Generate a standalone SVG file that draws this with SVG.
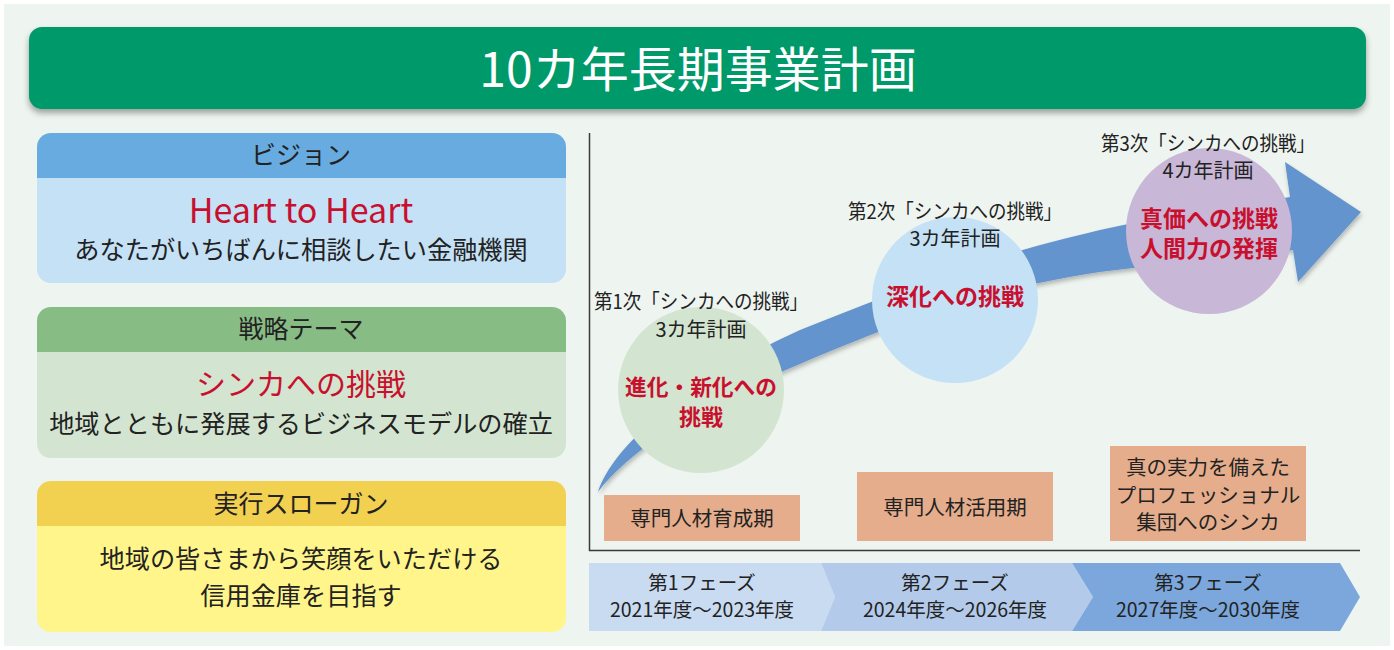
<svg xmlns="http://www.w3.org/2000/svg" width="1394" height="650" viewBox="0 0 1394 650">
<defs>
<filter id="sh" x="-5%" y="-20%" width="110%" height="150%">
<feDropShadow dx="0" dy="4" stdDeviation="3" flood-color="#000" flood-opacity="0.35"/>
</filter>
<filter id="ash" x="-5%" y="-10%" width="110%" height="130%">
<feDropShadow dx="1" dy="3" stdDeviation="2" flood-color="#000" flood-opacity="0.25"/>
</filter>
<style>
text{font-family:"Noto Sans CJK JP","Noto Sans",sans-serif;text-anchor:middle;fill:#222}
.hd{font-size:25px}
.bd{font-size:25.2px}
.red{fill:#C8102E}
.lbl{font-size:20px}
.ct{font-size:23px;font-weight:bold;fill:#C8102E}
.bx{fill:#E5AD8C}
.bt{font-size:20.5px}
.ph{font-size:19.5px}
</style>
</defs>
<rect x="0" y="0" width="1394" height="650" fill="#ffffff"/>
<rect x="4" y="4" width="1386" height="642" fill="#EEF4F0"/>

<g id="title">
<rect x="29" y="27" width="1337" height="82" rx="13" fill="#00996A" filter="url(#sh)"/>
<text x="698" y="87" style="font-size:48px;fill:#ffffff">10カ年長期事業計画</text>
</g>

<g id="vision">
<path d="M37,147 a14,14 0 0 1 14,-14 h501 a14,14 0 0 1 14,14 v31 h-529 z" fill="#67ABE0"/>
<path d="M37,178 h529 v91 a14,14 0 0 1 -14,14 h-501 a14,14 0 0 1 -14,-14 z" fill="#C5E1F6"/>
<text class="hd" x="301" y="164">ビジョン</text>
<text x="301" y="223" style="font-size:34px" class="red">Heart to Heart</text>
<text class="bd" x="301" y="259">あなたがいちばんに相談したい金融機関</text>
</g>

<g id="strategy">
<path d="M37,321 a14,14 0 0 1 14,-14 h501 a14,14 0 0 1 14,14 v31 h-529 z" fill="#88BC85"/>
<path d="M37,352 h529 v92 a14,14 0 0 1 -14,14 h-501 a14,14 0 0 1 -14,-14 z" fill="#D3E5D0"/>
<text class="hd" x="301" y="338">戦略テーマ</text>
<text x="301" y="395" style="font-size:30px" class="red">シンカへの挑戦</text>
<text class="bd" x="301" y="433">地域とともに発展するビジネスモデルの確立</text>
</g>

<g id="slogan">
<path d="M37,495 a14,14 0 0 1 14,-14 h501 a14,14 0 0 1 14,14 v31 h-529 z" fill="#F2D050"/>
<path d="M37,526 h529 v92 a14,14 0 0 1 -14,14 h-501 a14,14 0 0 1 -14,-14 z" fill="#FFF58A"/>
<text class="hd" x="301" y="513">実行スローガン</text>
<text class="bd" x="301" y="568">地域の皆さまから笑顔をいただける</text>
<text class="bd" x="301" y="605">信用金庫を目指す</text>
</g>

<g id="axes" stroke="#3a3a3a" stroke-width="1.5" fill="none">
<line x1="589.5" y1="133" x2="589.5" y2="551"/>
<line x1="589" y1="550.5" x2="1360" y2="550.5"/>
</g>

<g id="connectors">
<path d="M598,492 C615,440 700,375 800,330 C900,290 1000,250 1133,223 L1290,197 L1285,162 L1361,212 L1298,282 L1293,250 L1133,268 C1000,282 900,322 800,364 C700,405 630,450 598,492 Z" fill="#6494CE" filter="url(#ash)"/>
</g>

<g id="phase1-plan">
<circle cx="701" cy="390" r="83" fill="#D3E5D0"/>
<text class="lbl" x="701" y="309" textLength="214" lengthAdjust="spacingAndGlyphs">第1次「シンカへの挑戦」</text>
<text class="lbl" x="701" y="337">3カ年計画</text>
<text class="ct" x="701" y="395" style="font-size:22px" textLength="152" lengthAdjust="spacingAndGlyphs">進化・新化への</text>
<text class="ct" x="701" y="425" style="font-size:22px">挑戦</text>
</g>

<g id="phase2-plan">
<circle cx="955" cy="300" r="83" fill="#C5E1F6"/>
<text class="lbl" x="955" y="219" textLength="214" lengthAdjust="spacingAndGlyphs">第2次「シンカへの挑戦」</text>
<text class="lbl" x="955" y="246">3カ年計画</text>
<text class="ct" x="955" y="305">深化への挑戦</text>
</g>

<g id="phase3-plan">
<circle cx="1209" cy="231" r="83" fill="#C8B7D7"/>
<text class="lbl" x="1208" y="151" textLength="214" lengthAdjust="spacingAndGlyphs">第3次「シンカへの挑戦」</text>
<text class="lbl" x="1208" y="178">4カ年計画</text>
<text class="ct" x="1209" y="227">真価への挑戦</text>
<text class="ct" x="1209" y="257">人間力の発揮</text>
</g>

<g id="stage1">
<rect class="bx" x="604" y="495" width="196" height="46"/>
<text class="bt" x="702" y="526">専門人材育成期</text>
</g>
<g id="stage2">
<rect class="bx" x="857" y="472" width="196" height="69"/>
<text class="bt" x="955" y="515">専門人材活用期</text>
</g>
<g id="stage3">
<rect class="bx" x="1110" y="446" width="196" height="95"/>
<text class="bt" x="1208" y="475">真の実力を備えた</text>
<text class="bt" x="1208" y="503">プロフェッショナル</text>
<text class="bt" x="1208" y="530">集団へのシンカ</text>
</g>

<g id="phase1">
<path d="M589,563 L821,563 L835,597 L821,631 L589,631 Z" fill="#C9DBF1"/>
<text class="ph" x="702" y="590">第1フェーズ</text>
<text class="ph" x="702" y="617">2021年度〜2023年度</text>
</g>
<g id="phase2">
<path d="M821,563 L1072,563 L1093,597 L1072,631 L821,631 L835,597 Z" fill="#B3CAEA"/>
<text class="ph" x="955" y="590">第2フェーズ</text>
<text class="ph" x="955" y="617">2024年度〜2026年度</text>
</g>
<g id="phase3">
<path d="M1072,563 L1340,563 L1360,597 L1340,631 L1072,631 L1093,597 Z" fill="#7BA7DC"/>
<text class="ph" x="1208" y="590">第3フェーズ</text>
<text class="ph" x="1208" y="617">2027年度〜2030年度</text>
</g>
</svg>
